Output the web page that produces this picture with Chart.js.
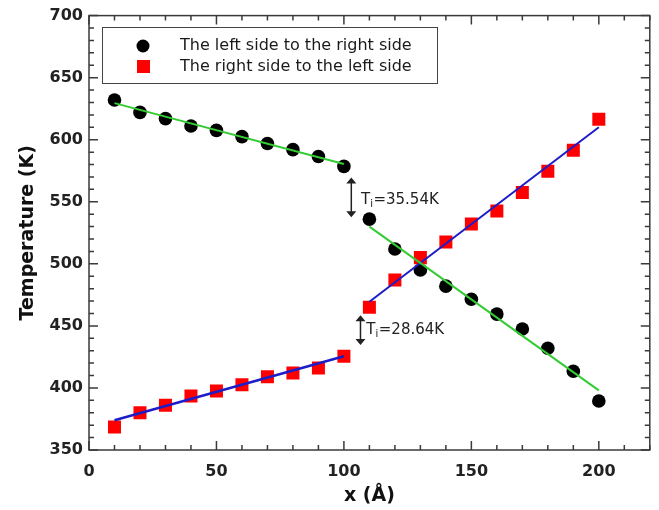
<!DOCTYPE html>
<html>
<head>
<meta charset="utf-8">
<script src="https://cdn.jsdelivr.net/npm/chart.js@4.4.1/dist/chart.umd.min.js"></script>
<style>
  html, body { margin: 0; padding: 0; background: #fff; }
  #wrap { width: 659px; height: 510px; }
</style>
</head>
<body>
<div id="wrap"><canvas id="chart"></canvas></div>
<script>
// data
const xPos = [10, 20, 30, 40, 50, 60, 70, 80, 90, 100, 110, 120, 130, 140, 150, 160, 170, 180, 190, 200];
const leftToRight = [632, 622, 617, 611, 607.5, 602.5, 597, 592, 586.5, 578.5, 536, 512, 495, 482, 471.5, 459.5, 447.5, 432, 413.5, 389.5];
const rightToLeft = [368.5, 380, 386, 393.5, 397.5, 402.5, 409, 412, 416, 425.5, 465, 487, 505, 517.5, 532, 542.5, 557.5, 574.5, 591.5, 616.5];

// fitted lines (x ends, y ends)
const fitX1 = [10, 100];
const fitX2 = [110, 200];
const greenFit1 = [629.5, 580.5];
const greenFit2 = [530, 398];
const blueFit1 = [374, 425.5];
const blueFit2 = [469.5, 610];

// interface jumps
const jumpLabels = ["=35.54K", "=28.64K"];
const jumpArrowX = [102.9, 106.5];
const jumpArrowY = [[569.5, 537.5], [458.5, 434.5]];
const jumpTextPos = [[106.7, 551], [108.8, 446.5]];

const legendLabels = ["The left side to the right side", "The right side to the left side"];

const pts = (xs, ys) => xs.map((x, i) => ({ x: x, y: ys[i] }));

const fontFam = "'DejaVu Sans', Verdana, sans-serif";

// frame, inward ticks, arrows, legend
const decor = {
  id: "decor",
  afterDraw(chart) {
    const ctx = chart.ctx;
    const a = chart.chartArea;
    const xs = chart.scales.x, ys = chart.scales.y;
    ctx.save();
    ctx.strokeStyle = "#3a3a3a";
    ctx.lineWidth = 1.5;
    ctx.strokeRect(a.left, a.top, a.right - a.left, a.bottom - a.top);
    ctx.beginPath();
    for (let v = 0; v <= 220; v += 10) {
      const p = xs.getPixelForValue(v);
      const len = v % 50 === 0 ? 9 : 5;
      ctx.moveTo(p, a.bottom); ctx.lineTo(p, a.bottom - len);
      ctx.moveTo(p, a.top); ctx.lineTo(p, a.top + len);
    }
    for (let v = 350; v <= 700; v += 10) {
      const p = ys.getPixelForValue(v);
      const len = v % 50 === 0 ? 9 : 5;
      ctx.moveTo(a.left, p); ctx.lineTo(a.left + len, p);
      ctx.moveTo(a.right, p); ctx.lineTo(a.right - len, p);
    }
    ctx.stroke();

    // double arrows
    ctx.strokeStyle = "#222";
    ctx.fillStyle = "#222";
    ctx.lineWidth = 1.5;
    jumpArrowX.forEach((xv, i) => {
      const px = xs.getPixelForValue(xv);
      const y1 = ys.getPixelForValue(jumpArrowY[i][0]);
      const y2 = ys.getPixelForValue(jumpArrowY[i][1]);
      ctx.beginPath();
      ctx.moveTo(px, y1 + 4); ctx.lineTo(px, y2 - 4);
      ctx.stroke();
      ctx.beginPath();
      ctx.moveTo(px, y1); ctx.lineTo(px - 5, y1 + 6); ctx.lineTo(px + 5, y1 + 6); ctx.closePath();
      ctx.moveTo(px, y2); ctx.lineTo(px - 5, y2 - 6); ctx.lineTo(px + 5, y2 - 6); ctx.closePath();
      ctx.fill();

      // T_i label
      const tx = xs.getPixelForValue(jumpTextPos[i][0]);
      const ty = ys.getPixelForValue(jumpTextPos[i][1]);
      ctx.textBaseline = "middle";
      ctx.textAlign = "left";
      ctx.font = "15px " + fontFam;
      ctx.fillText("T", tx, ty);
      let off = ctx.measureText("T").width;
      ctx.font = "10px " + fontFam;
      ctx.fillText("i", tx + off, ty + 4);
      off += ctx.measureText("i").width + 0.5;
      ctx.font = "15px " + fontFam;
      ctx.fillText(jumpLabels[i], tx + off, ty);
    });

    // legend box
    ctx.fillStyle = "#fff";
    ctx.fillRect(102, 27, 335, 56);
    ctx.strokeStyle = "#444";
    ctx.lineWidth = 1;
    ctx.strokeRect(102.5, 27.5, 335, 56);
    ctx.fillStyle = "#000";
    ctx.beginPath();
    ctx.arc(143, 46, 6.5, 0, Math.PI * 2);
    ctx.fill();
    ctx.fillStyle = "#ff0000";
    ctx.fillRect(137, 60, 13, 13);
    ctx.fillStyle = "#1a1a1a";
    ctx.font = "16px " + fontFam;
    ctx.textBaseline = "middle";
    ctx.fillText(legendLabels[0], 180, 46);
    ctx.fillText(legendLabels[1], 180, 66.5);
    ctx.restore();
  }
};

const tickFont = { family: fontFam, size: 16, weight: "bold" };
const titleFont = { family: fontFam, size: 19, weight: "bold" };

new Chart(document.getElementById("chart"), {
  type: "scatter",
  data: {
    datasets: [
      { data: pts(fitX1, greenFit1), showLine: true, borderColor: "#33cc33", borderWidth: 2, pointRadius: 0, order: 0 },
      { data: pts(fitX2, greenFit2), showLine: true, borderColor: "#33cc33", borderWidth: 2, pointRadius: 0, order: 0 },
      { data: pts(fitX1, blueFit1), showLine: true, borderColor: "#1c1cc8", borderWidth: 2.5, pointRadius: 0, order: 0 },
      { data: pts(fitX2, blueFit2), showLine: true, borderColor: "#1c1cc8", borderWidth: 2, pointRadius: 0, order: 0 },
      { label: legendLabels[0], data: pts(xPos, leftToRight), pointStyle: "circle", pointRadius: 6.8,
        backgroundColor: "#000", borderColor: "#000", borderWidth: 0, order: 1 },
      { label: legendLabels[1], data: pts(xPos, rightToLeft), pointStyle: "rect", pointRadius: 9.2,
        backgroundColor: "#ff0000", borderColor: "#ff0000", borderWidth: 0, order: 1 },
    ],
  },
  options: {
    responsive: true,
    maintainAspectRatio: false,
    animation: false,
    layout: { padding: { top: 15, right: 9, left: 0, bottom: 0 } },
    plugins: {
      legend: false,
      tooltip: { enabled: false },
    },
    scales: {
      x: {
        type: "linear",
        min: 0,
        max: 220,
        afterBuildTicks: (s) => { s.ticks = s.ticks.filter((t) => t.value % 50 === 0); },
        afterFit: (s) => { s.height = 60; },
        grid: { display: false, drawTicks: false },
        border: { display: false },
        ticks: { stepSize: 50, padding: 12, color: "#222", font: tickFont, maxRotation: 0 },
        title: { display: true, text: "x (Å)", color: "#111", font: titleFont, padding: { top: 0, bottom: 3 } },
      },
      y: {
        type: "linear",
        min: 350,
        max: 700,
        afterFit: (s) => { s.width = 89; },
        grid: { display: false, drawTicks: false },
        border: { display: false },
        ticks: { stepSize: 50, padding: 6, color: "#222", font: tickFont },
        title: { display: true, text: "Temperature (K)", color: "#111", font: titleFont, padding: { top: 17, bottom: 17 } },
      },
    },
  },
  plugins: [decor],
});
</script>
</body>
</html>
